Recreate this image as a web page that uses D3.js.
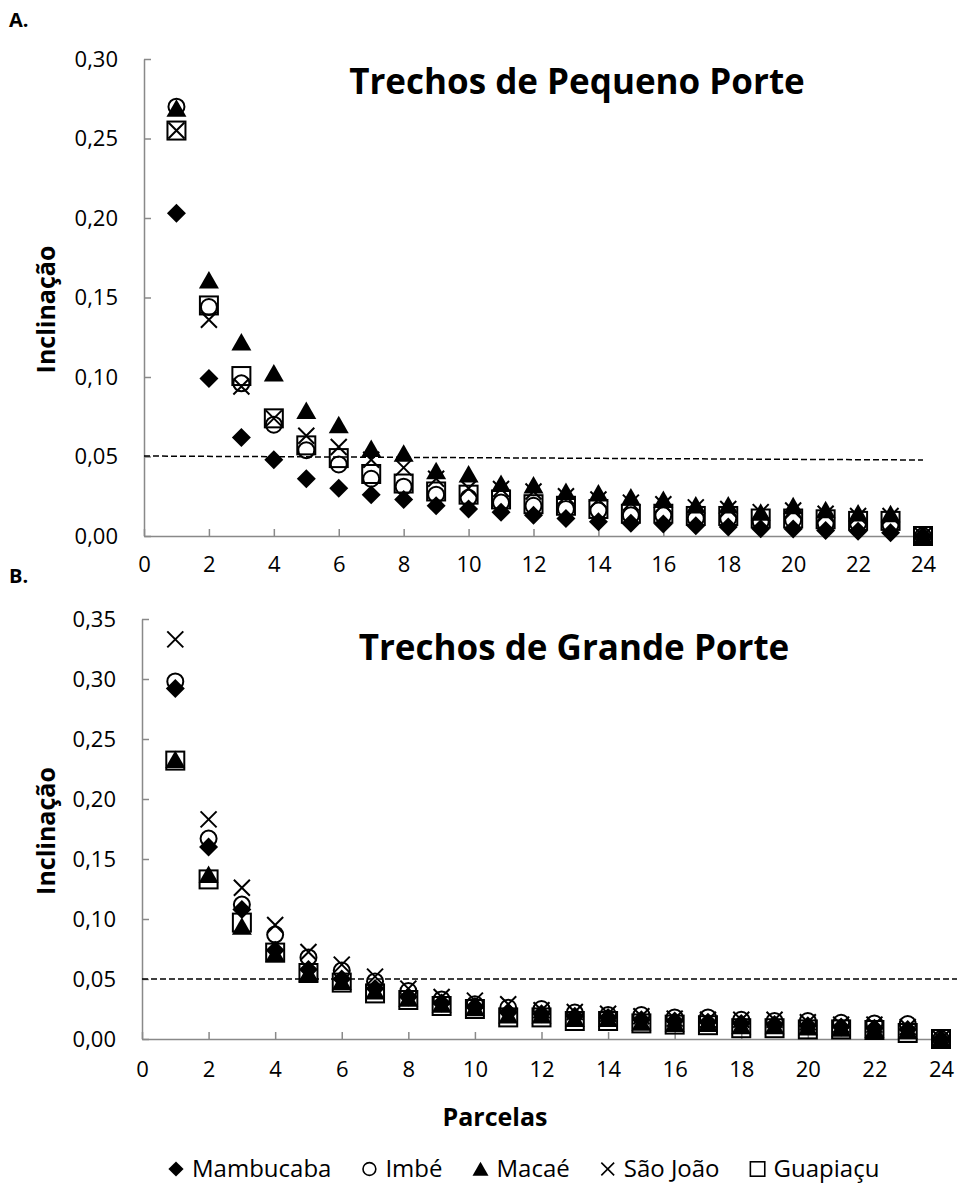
<!DOCTYPE html>
<html>
<head>
<meta charset="utf-8">
<script src="https://cdnjs.cloudflare.com/ajax/libs/d3/7.8.5/d3.min.js"></script>
<style>
body { margin: 0; background: #fff; }
svg text { font-family: "Open Sans", "Noto Sans", sans-serif; fill: #000; }
.axis path, .axis line { stroke: #898989; stroke-width: 1.5; }
.axis text { font-size: 22px; font-family: "Open Sans", "Noto Sans", sans-serif; }
.title { font-size: 35px; font-weight: bold; }
.atitle { font-size: 25px; font-weight: bold; }
.panel { font-size: 20px; font-weight: bold; }
.legend text { font-size: 24px; }
</style>
</head>
<body>
<div id="chart"></div>
<script>

/****** data ******/
var parcelas = [1,2,3,4,5,6,7,8,9,10,11,12,13,14,15,16,17,18,19,20,21,22,23,24];
var seriesNames = ["Mambucaba", "Imbé", "Macaé", "São João", "Guapiaçu"];
var xTicks = [0,2,4,6,8,10,12,14,16,18,20,22,24];

// A. Trechos de Pequeno Porte
var pequenoMambucaba = [0.203,0.099,0.062,0.048,0.036,0.030,0.026,0.023,0.019,0.017,0.015,0.013,0.011,0.009,0.008,0.0075,0.0065,0.0057,0.0045,0.0044,0.0035,0.003,0.002,0];
var pequenoImbe      = [0.270,0.144,0.096,0.070,0.054,0.045,0.036,0.031,0.026,0.024,0.021,0.019,0.017,0.016,0.013,0.013,0.011,0.011,0.009,0.010,0.008,0.008,0.007,0];
var pequenoMacae     = [0.269,0.161,0.122,0.1025,0.079,0.070,0.055,0.052,0.041,0.039,0.033,0.032,0.028,0.027,0.0245,0.023,0.0195,0.0195,0.015,0.019,0.0165,0.0145,0.014,0];
var pequenoSaoJoao   = [0.255,0.136,0.094,0.074,0.063,0.056,0.048,0.043,0.036,0.030,0.0296,0.028,0.025,0.023,0.021,0.020,0.018,0.017,0.015,0.016,0.014,0.0126,0.0126,0];
var pequenoGuapiacu  = [0.255,0.145,0.1006,0.074,0.057,0.049,0.039,0.033,0.028,0.026,0.023,0.020,0.019,0.017,0.014,0.014,0.0126,0.0126,0.011,0.011,0.0105,0.0095,0.0095,0];
var pequenoLimX = [0, 24];
var pequenoLimY = [0.0503, 0.0478];

// B. Trechos de Grande Porte
var grandeMambucaba = [0.292,0.160,0.108,0.074,0.058,0.050,0.042,0.035,0.030,0.027,0.022,0.021,0.019,0.018,0.016,0.015,0.014,0.013,0.012,0.011,0.010,0.009,0.008,0];
var grandeImbe      = [0.298,0.167,0.112,0.087,0.068,0.057,0.048,0.040,0.033,0.029,0.026,0.025,0.022,0.020,0.020,0.018,0.018,0.016,0.015,0.015,0.0135,0.013,0.0125,0];
var grandeMacae     = [0.233,0.137,0.094,0.071,0.055,0.048,0.040,0.034,0.029,0.026,0.020,0.020,0.017,0.017,0.014,0.013,0.013,0.011,0.011,0.010,0.009,0.008,0.007,0];
var grandeSaoJoao   = [0.333,0.183,0.126,0.095,0.0725,0.062,0.052,0.042,0.035,0.032,0.029,0.024,0.0225,0.021,0.019,0.017,0.016,0.016,0.016,0.014,0.012,0.012,0.010,0];
var grandeGuapiacu  = [0.232,0.133,0.097,0.072,0.055,0.047,0.038,0.0325,0.0275,0.025,0.018,0.018,0.015,0.015,0.013,0.012,0.0115,0.009,0.009,0.008,0.008,0.0075,0.005,0];
var grandeLimX = [0, 24.5];
var grandeLimY = [0.05, 0.05];

var markerTypes = ["diamond", "circle", "triangle", "cross", "square"];

/****** setup ******/
var width = 957, height = 1187;
var svg = d3.select("#chart").append("svg")
    .attr("width", width)
    .attr("height", height);

var ptBR = d3.formatLocale({decimal: ",", thousands: ".", grouping: [3], currency: ["", ""]});
var fmt = ptBR.format(".2f");

function marker(g, type, k) {
    k = k || 1;
    if (type === "diamond") {
        g.append("path").attr("d", "M0,-9.5L9.5,0L0,9.5L-9.5,0Z").attr("transform", "scale(" + k + ")").attr("fill", "#000");
    } else if (type === "circle") {
        g.append("circle").attr("r", 8 * k).attr("fill", "none").attr("stroke", "#000").attr("stroke-width", 2 * k);
    } else if (type === "triangle") {
        g.append("path").attr("d", "M0,-9L10,8.5L-10,8.5Z").attr("transform", "scale(" + k + ")").attr("fill", "#000");
    } else if (type === "cross") {
        g.append("path").attr("d", "M-8,-8L8,8M-8,8L8,-8").attr("transform", "scale(" + k + ")")
            .attr("stroke", "#000").attr("stroke-width", 2).attr("fill", "none");
    } else {
        g.append("rect").attr("x", -9 * k).attr("y", -9 * k).attr("width", 18 * k).attr("height", 18 * k)
            .attr("fill", "none").attr("stroke", "#000").attr("stroke-width", 2 * k);
    }
}

function drawPanel(opt) {
    var x = d3.scaleLinear().domain([0, 24]).range(opt.xRange);
    var y = d3.scaleLinear().domain([0, opt.yMax]).range(opt.yRange);
    var g = svg.append("g");

    g.append("g")
        .attr("class", "axis")
        .attr("transform", "translate(" + opt.xRange[0] + ",0)")
        .call(d3.axisLeft(y).tickValues(opt.yTicks).tickFormat(fmt).tickSizeInner(-7).tickSizeOuter(0).tickPadding(26))
        .call(function (a) { a.selectAll("text").attr("fill", "#000"); });

    g.append("g")
        .attr("class", "axis")
        .attr("transform", "translate(0," + opt.yRange[0] + ")")
        .call(d3.axisBottom(x).tickValues(xTicks).tickFormat(d3.format("d")).tickSizeInner(-7).tickSizeOuter(0).tickPadding(opt.xPad))
        .call(function (a) { a.selectAll("text").attr("fill", "#000"); });

    // 0,05 reference line
    g.append("line")
        .attr("x1", x(opt.limX[0])).attr("y1", y(opt.limY[0]))
        .attr("x2", x(opt.limX[1])).attr("y2", y(opt.limY[1]))
        .attr("stroke", "#000").attr("stroke-width", 1.5).attr("stroke-dasharray", "6,3");

    opt.series.forEach(function (vals, si) {
        var sg = g.append("g");
        vals.forEach(function (v, i) {
            var m = sg.append("g").attr("transform", "translate(" + x(parcelas[i]) + "," + y(v) + ")");
            marker(m, markerTypes[si]);
        });
    });

    svg.append("text").attr("class", "title")
        .attr("x", opt.titleX).attr("y", opt.titleY)
        .attr("text-anchor", "middle")
        .text(opt.title);

    svg.append("text").attr("class", "atitle")
        .attr("transform", "translate(55," + ((opt.yRange[0] + opt.yRange[1]) / 2 + opt.ytOff) + ") rotate(-90)")
        .attr("text-anchor", "middle")
        .text("Inclinação");

    svg.append("text").attr("class", "panel")
        .attr("x", 9).attr("y", opt.panelY)
        .text(opt.panel);
}

drawPanel({
    panel: "A.", panelY: 27,
    title: "Trechos de Pequeno Porte", titleX: 577, titleY: 94,
    xRange: [144, 923], yRange: [536, 59], yMax: 0.30,
    yTicks: [0, 0.05, 0.10, 0.15, 0.20, 0.25, 0.30], xPad: 20, ytOff: 12,
    limX: pequenoLimX, limY: pequenoLimY,
    series: [pequenoMambucaba, pequenoImbe, pequenoMacae, pequenoSaoJoao, pequenoGuapiacu]
});

drawPanel({
    panel: "B.", panelY: 583,
    title: "Trechos de Grande Porte", titleX: 574, titleY: 660,
    xRange: [142, 941], yRange: [1039, 619], yMax: 0.35,
    yTicks: [0, 0.05, 0.10, 0.15, 0.20, 0.25, 0.30, 0.35], xPad: 22, ytOff: 2,
    limX: grandeLimX, limY: grandeLimY,
    series: [grandeMambucaba, grandeImbe, grandeMacae, grandeSaoJoao, grandeGuapiacu]
});

svg.append("text").attr("class", "atitle")
    .attr("x", 495).attr("y", 1126)
    .attr("text-anchor", "middle")
    .text("Parcelas");

/****** legend ******/
var legend = svg.append("g").attr("class", "legend");
var lx = 168;
seriesNames.forEach(function (name, i) {
    var m = legend.append("g").attr("transform", "translate(" + (lx + 8) + ",1169)");
    marker(m, markerTypes[i], 0.8);
    var t = legend.append("text").attr("x", lx + 24).attr("y", 1177).text(name);
    lx = lx + 24 + t.node().getComputedTextLength() + 30;
});

</script>
</body>
</html>
